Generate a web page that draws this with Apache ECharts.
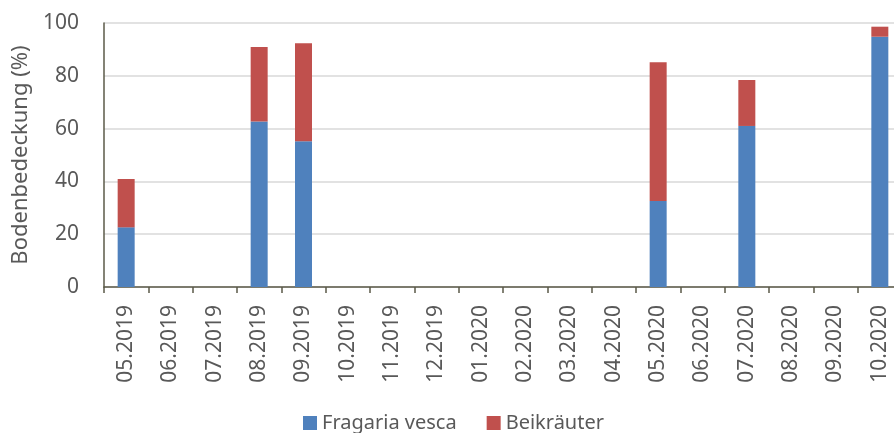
<!DOCTYPE html>
<html>
<head>
<meta charset="utf-8">
<script src="https://cdn.jsdelivr.net/npm/echarts@6/dist/echarts.min.js"></script>
<style>
  html, body { margin: 0; padding: 0; background: #fff; }
  #chart1 { width: 894px; height: 433px; }
</style>
</head>
<body>
<div id="chart1"></div>
<script>
var months = ['05.2019', '06.2019', '07.2019', '08.2019', '09.2019', '10.2019', '11.2019', '12.2019',
    '01.2020', '02.2020', '03.2020', '04.2020', '05.2020', '06.2020', '07.2020', '08.2020', '09.2020', '10.2020'];
var fragaria = [22.6, null, null, 62.7, 55.2, null, null, null, null, null, null, null, 32.6, null, 61.0, null, null, 94.8];
var beikraeuter = [18.3, null, null, 28.2, 37.1, null, null, null, null, null, null, null, 52.5, null, 17.4, null, null, 3.8];
var yTicks = [0, 20, 40, 60, 80, 100];

var font = '"Noto Sans", "Open Sans", sans-serif';
var textColor = '#595959';

var dom = document.getElementById('chart1');
var myChart = echarts.init(dom);

myChart.setOption({
    animation: false,
    textStyle: { fontFamily: font },
    grid: { left: 104, top: 23, height: 264, width: 798, containLabel: false, outerBoundsMode: 'none' },
    legend: {
        left: 303,
        top: 413,
        padding: 0,
        itemWidth: 14,
        itemHeight: 14,
        itemGap: 30,
        icon: 'rect',
        textStyle: { fontFamily: font, fontSize: 20, color: textColor },
        data: ['Fragaria vesca', 'Beikräuter']
    },
    xAxis: {
        type: 'category',
        data: months,
        axisLine: { lineStyle: { color: '#5b5a48', width: 1.5 } },
        axisTick: { show: true, length: 6, lineStyle: { color: '#5b5a48', width: 1.5 } },
        axisLabel: { rotate: 90, margin: 18, fontSize: 21, color: textColor, fontFamily: font }
    },
    yAxis: {
        type: 'value',
        min: yTicks[0],
        max: yTicks[yTicks.length - 1],
        interval: 20,
        name: 'Bodenbedeckung (%)',
        nameLocation: 'middle',
        nameGap: 56,
        nameTextStyle: { fontSize: 22, color: textColor, fontFamily: font },
        axisLine: { show: true, lineStyle: { color: '#5b5a48', width: 1.5 } },
        axisTick: { show: false },
        axisLabel: { margin: 25, fontSize: 21, color: textColor, fontFamily: font },
        splitLine: { lineStyle: { color: '#d9d9d9', width: 1.5 } }
    },
    series: [{
        name: 'Fragaria vesca',
        type: 'bar',
        stack: 'total',
        barWidth: 17,
        itemStyle: { color: '#4f81bd' },
        data: fragaria
    }, {
        name: 'Beikräuter',
        type: 'bar',
        stack: 'total',
        barWidth: 17,
        itemStyle: { color: '#c0504d' },
        data: beikraeuter
    }]
});
</script>
</body>
</html>
